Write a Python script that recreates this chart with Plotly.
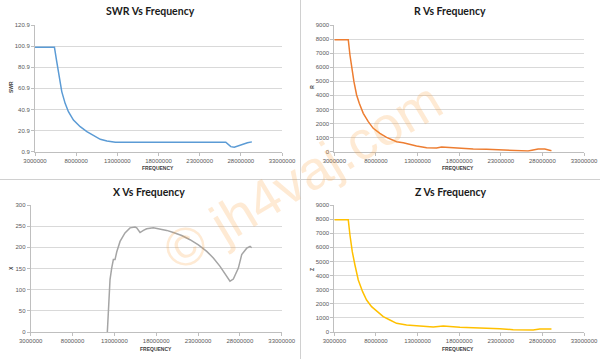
import plotly.graph_objects as go

# ---------------- data ----------------
freq_swr = [3000000, 5360000, 5640000, 5970000, 6250000, 6660000, 7060000, 7670000,
            8490000, 9300000, 10110000, 10930000, 11740000, 12760000, 26170000,
            26780000, 27200000, 28000000, 28800000, 29340000]
swr = [99.9, 99.9, 86.2, 70.4, 57.8, 46.7, 38.8, 30.9, 24.6, 19.9, 16.1, 12.6,
       11.0, 9.9, 9.9, 5.7, 5.1, 7.3, 9.4, 10.2]

freq_r = [3000000, 4680000, 4880000, 5080000, 5360000, 5680000, 6000000, 6480000,
          7080000, 7680000, 8480000, 9280000, 10480000, 11280000, 12880000,
          14090000, 14890000, 15290000, 15890000, 16490000, 18090000, 19690000,
          21290000, 22890000, 24490000, 25290000, 26290000, 26890000, 27490000,
          28290000, 28690000, 29090000]
r_vals = [7950, 7950, 6869, 5924, 4975, 4028, 3436, 2727, 2133, 1660, 1305, 1021,
          713, 642, 405, 287, 239, 263, 334, 310, 239, 192, 168, 121, 97, 50, 50,
          121, 192, 192, 121, 73]

freq_x = [12160000, 12280000, 12480000, 12680000, 12880000, 13080000, 13280000,
          13680000, 14270000, 14870000, 15470000, 15670000, 16070000, 16470000,
          16860000, 17660000, 18460000, 19260000, 20050000, 21050000, 22040000,
          23040000, 24040000, 24830000, 25630000, 26430000, 26820000, 27220000,
          27820000, 28220000, 28820000, 29220000, 29410000]
x_vals = [0, 60.6, 123.6, 151, 171, 171, 189, 214, 234, 246, 248, 246, 235, 240,
          244, 246.5, 244, 240, 235, 228, 218, 206, 190.5, 175, 155, 131.5, 120,
          125, 151, 183, 198, 202, 199]

freq_z = [3000000, 4680000, 4880000, 5160000, 5480000, 5880000, 6400000, 6880000,
          7480000, 8080000, 8880000, 9680000, 10480000, 11680000, 13080000,
          14890000, 16090000, 16890000, 18090000, 19690000, 21290000, 22890000,
          24490000, 26090000, 26890000, 27690000, 28490000, 29090000]
z_vals = [7950, 7950, 6874, 5693, 4748, 3685, 2858, 2268, 1795, 1488, 1087, 850,
          614, 496, 425, 354, 425, 378, 331, 307, 284, 236, 165, 118, 142, 213,
          236, 213]

freq_ticks = [3000000, 8000000, 13000000, 18000000, 23000000, 28000000, 33000000]
titles = ["SWR Vs Frequency", "R Vs Frequency", "X Vs Frequency", "Z Vs Frequency"]
y_titles = ["SWR", "R", "X", "Z"]
x_title = "FREQUENCY"
watermark = "© jh4vaj.com"

# ---------------- styling ----------------
W, H = 600, 359
colors = ["#5B9BD5", "#ED7D31", "#A5A5A5", "#FFC000"]
TITLE_FONT = "Lato, Roboto, Liberation Sans, sans-serif"
TICK_FONT = dict(family="Liberation Sans, Arial, sans-serif", size=6, color="#595959")


def px_x(p):
    return p / W


def px_y(p):
    return 1 - p / H


fig = go.Figure()
series = [(freq_swr, swr), (freq_r, r_vals), (freq_x, x_vals), (freq_z, z_vals)]
for i, (fx, fy) in enumerate(series):
    suffix = "" if i == 0 else str(i + 1)
    fig.add_trace(go.Scatter(x=fx, y=fy, mode="lines",
                             line=dict(color=colors[i], width=1.5),
                             xaxis="x" + suffix, yaxis="y" + suffix,
                             showlegend=False, hoverinfo="skip"))

# plot areas in pixels: (left, right, top, bottom)
areas = [(35, 282, 25, 151.7), (334.3, 584, 25, 151.7),
         (30.7, 281.7, 205, 332), (334.3, 584, 205, 332)]
yranges = [[0.9, 120.9], [0, 9000], [0, 300], [0, 9000]]
ydticks = [20, 1000, 50, 1000]
ytick0 = [0.9, 0, 0, 0]

layout = dict(width=W, height=H,
              margin=dict(l=0, r=0, t=0, b=0, pad=0, autoexpand=False),
              paper_bgcolor="white", plot_bgcolor="white", showlegend=False)

for i, (l, rgt, t, b) in enumerate(areas):
    suffix = "" if i == 0 else str(i + 1)
    layout["xaxis" + suffix] = dict(
        domain=[px_x(l), px_x(rgt)], anchor="y" + suffix, automargin=False,
        range=[3000000, 33000000], tickvals=freq_ticks, tickformat="d",
        showgrid=False, zeroline=False, showline=True, linecolor="#BFBFBF",
        linewidth=1, ticks="outside", ticklen=3, tickcolor="#BFBFBF",
        tickfont=TICK_FONT, fixedrange=True)
    layout["yaxis" + suffix] = dict(
        domain=[px_y(b), px_y(t)], anchor="x" + suffix, automargin=False,
        range=yranges[i], tick0=ytick0[i], dtick=ydticks[i],
        showgrid=True, gridcolor="#D9D9D9", gridwidth=1, zeroline=False,
        showline=True, linecolor="#BFBFBF", linewidth=1, ticks="outside",
        ticklen=3, tickcolor="#BFBFBF", tickfont=TICK_FONT, fixedrange=True)

annotations = []
title_pos = [(150, 11), (450, 11), (149, 191.5), (450.5, 191.5)]
for (tx, ty), txt in zip(title_pos, titles):
    annotations.append(dict(text="<b>" + txt + "</b>", x=px_x(tx), y=px_y(ty),
                            xref="paper", yref="paper", showarrow=False,
                            xanchor="center", yanchor="middle",
                            font=dict(family=TITLE_FONT, size=10.5, color="#1a1a1a")))
ytitle_pos = [(11, 87), (311.7, 87), (11, 268), (312, 270)]
for (tx, ty), txt in zip(ytitle_pos, y_titles):
    annotations.append(dict(text="<b>" + txt + "</b>", x=px_x(tx), y=px_y(ty),
                            xref="paper", yref="paper", showarrow=False,
                            textangle=-90, xanchor="center", yanchor="middle",
                            font=dict(family="Liberation Sans, sans-serif", size=5,
                                      color="#404040")))
xtitle_pos = [(158, 168), (458, 168), (156, 349), (458, 349)]
for tx, ty in xtitle_pos:
    annotations.append(dict(text="<b>" + x_title + "</b>", x=px_x(tx), y=px_y(ty),
                            xref="paper", yref="paper", showarrow=False,
                            xanchor="center", yanchor="middle",
                            font=dict(family="Liberation Sans, sans-serif", size=5,
                                      color="#404040")))
# watermark
annotations.append(dict(text=watermark, x=px_x(302), y=px_y(176), xref="paper",
                        yref="paper", showarrow=False, textangle=-31,
                        xanchor="center", yanchor="middle",
                        font=dict(family="Liberation Sans, sans-serif", size=54,
                                  color="rgba(250,160,60,0.22)")))
layout["annotations"] = annotations

layout["shapes"] = [
    dict(type="line", xref="paper", yref="paper", x0=px_x(300.5), x1=px_x(300.5),
         y0=0, y1=1, line=dict(color="#D0D0D0", width=1)),
    dict(type="line", xref="paper", yref="paper", x0=0, x1=1,
         y0=px_y(179.5), y1=px_y(179.5), line=dict(color="#D0D0D0", width=1)),
]

fig.update_layout(**layout)
fig.write_html("out.html",
               config={"displayModeBar": False, "staticPlot": True},
               post_script="document.body.style.margin='0';"
                           "document.body.style.padding='0';"
                           "document.body.style.overflow='hidden';")
